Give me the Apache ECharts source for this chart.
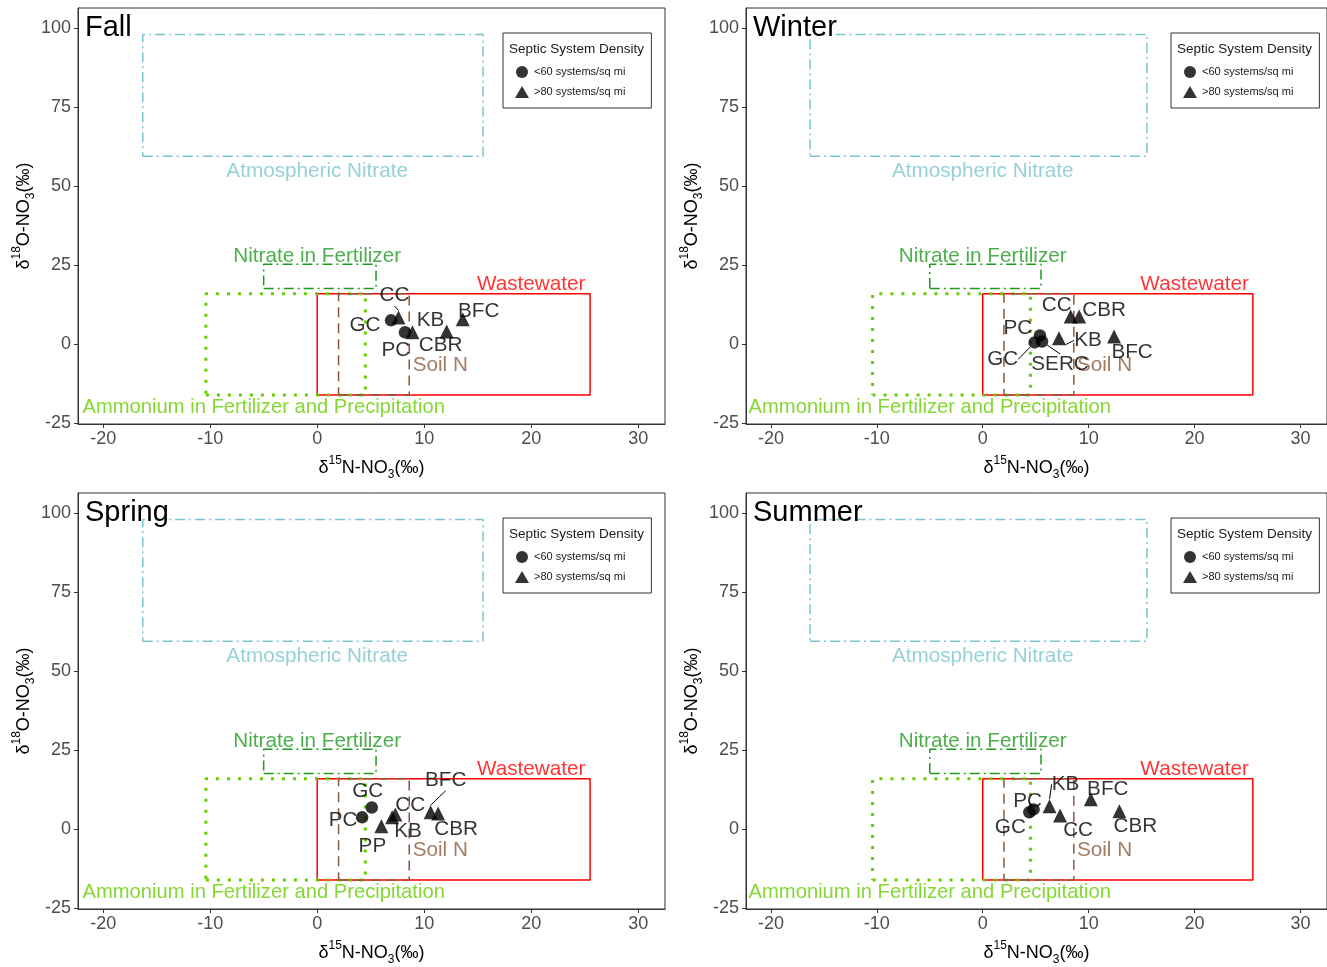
<!DOCTYPE html>
<html><head><meta charset="utf-8">
<script src="https://cdn.jsdelivr.net/npm/echarts@6/dist/echarts.min.js"></script>
<style>html,body{margin:0;padding:0;background:#fff}#c{width:1327px;height:967px}</style>
</head><body><div id="c"></div>
<script>
// ---------- DATA ----------
const seasons = ['Fall', 'Winter', 'Spring', 'Summer'];

const fallSites = ['GC', 'CC', 'PC', 'KB', 'CBR', 'BFC'];
const fallN15 = [6.9, 7.6, 8.2, 8.9, 12.1, 13.6];
const fallO18 = [7.6, 8.5, 3.8, 3.8, 4.1, 7.9];

const winterSites = ['PC', 'SERC', 'GC', 'CC', 'CBR', 'KB', 'BFC'];
const winterN15 = [5.4, 5.6, 4.9, 8.3, 9.1, 7.2, 12.4];
const winterO18 = [2.8, 0.9, 0.6, 8.8, 8.8, 1.9, 2.5];

const springSites = ['GC', 'PC', 'PP', 'CC', 'KB', 'BFC', 'CBR'];
const springN15 = [5.1, 4.2, 6.0, 7.3, 7.0, 10.6, 11.3];
const springO18 = [6.9, 3.8, 1.0, 4.7, 3.8, 5.4, 5.0];

const summerSites = ['GC', 'PC', 'KB', 'CC', 'BFC', 'CBR'];
const summerN15 = [4.4, 4.8, 6.3, 7.3, 10.2, 12.9];
const summerO18 = [5.4, 6.3, 7.3, 4.4, 9.5, 5.7];

const lowDensitySites = ['GC', 'PC', 'SERC'];
const densityClasses = ['<60 systems/sq mi', '>80 systems/sq mi'];

const sourceNames = ['Wastewater', 'Ammonium in Fertilizer and Precipitation', 'Soil N', 'Nitrate in Fertilizer', 'Atmospheric Nitrate'];
const sourceN15Min = [0, -10.4, 2, -5, -16.3];
const sourceN15Max = [25.5, 4.5, 8.6, 5.5, 15.5];
const sourceO18Min = [-16, -16, -16, 17.7, 59.5];
const sourceO18Max = [16, 16, 16, 25.3, 98];
const sourceLabelN15 = [20, -5, 11.5, 0, 0];
const sourceLabelO18 = [19, -19.9, -6.6, 27.8, 54.7];

const xTicks = [-20, -10, 0, 10, 20, 30];
const yTicks = [-25, 0, 25, 50, 75, 100];

// ---------- LABEL PLACEMENT (pixel offsets, repel-like) ----------
const fallLabelDx = [-26, -4, -9, 18, -6, 16];
const fallLabelDy = [5, -22, 18, -12, 14, -8];
const winterLabelDx = [-22, 18, -32, -14, 25, 29, 18];
const winterLabelDy = [-7, 23, 17, -11, -6, 2, 16];
const springLabelDx = [-4, -19, -9, 15, 16, 15, 18];
const springLabelDy = [-16, 3, 20, -9, 14, -32, 16];
const summerLabelDx = [-19, -6, 16, 18, 17, 16];
const summerLabelDy = [15, -8, -22, 15, -10, 15];
const fallLeaders = ['CC'];
const winterLeaders = ['SERC', 'GC', 'KB'];
const springLeaders = ['BFC'];
const summerLeaders = ['KB'];

// ---------- STYLE ----------
const FONT = 'Liberation Sans, Arial, sans-serif';
const sourceColors = ['#FF0000', '#66CD00', '#8B5A3C', '#1F9A1F', '#7AC5CD'];
const sourceDash = ['solid', [3, 8], [10, 6], [10, 4, 2, 4], [10, 4, 2, 4]];
const sourceWidth = [1.5, 3, 1.5, 1.5, 1.5];
const sourceFont = [20.7, 20.2, 20.7, 20.7, 20.7];

const panelSites = [fallSites, winterSites, springSites, summerSites];
const panelN15 = [fallN15, winterN15, springN15, summerN15];
const panelO18 = [fallO18, winterO18, springO18, summerO18];
const panelDx = [fallLabelDx, winterLabelDx, springLabelDx, summerLabelDx];
const panelDy = [fallLabelDy, winterLabelDy, springLabelDy, summerLabelDy];
const panelLeaders = [fallLeaders, winterLeaders, springLeaders, summerLeaders];

const gridPos = [
  { left: 78, top: 8 }, { left: 746, top: 8 },
  { left: 78, top: 493 }, { left: 746, top: 493 }
];

const axisNameRich = {
  t: { fontSize: 18, color: '#000', fontFamily: FONT, lineHeight: 26 },
  sup: { fontSize: 12, color: '#000', fontFamily: FONT, verticalAlign: 'top', lineHeight: 26 },
  sub: { fontSize: 12, color: '#000', fontFamily: FONT, verticalAlign: 'bottom', lineHeight: 26 }
};

const grid = [], xAxis = [], yAxis = [], series = [], title = [], legend = [];

seasons.forEach((season, i) => {
  const g = gridPos[i];
  grid.push({ left: g.left, top: g.top, width: 587, height: 416, show: true,
    borderColor: '#333', borderWidth: 1, backgroundColor: 'transparent' });
  xAxis.push({
    gridIndex: i, type: 'value', min: -22.35, max: 32.5,
    axisLine: { show: true, onZero: false, lineStyle: { color: '#333', width: 1 } },
    axisTick: { show: true, length: 4, customValues: xTicks, lineStyle: { color: '#333' } },
    axisLabel: { customValues: xTicks, color: '#4D4D4D', fontSize: 18, margin: 6, fontFamily: FONT },
    splitLine: { show: false },
    name: '{t|δ}{sup|15}{t|N-NO}{sub|3}{t|(‰)}', nameLocation: 'middle', nameGap: 31,
    nameTextStyle: { rich: axisNameRich }
  });
  yAxis.push({
    gridIndex: i, type: 'value', min: -25.2, max: 106.4,
    axisLine: { show: true, onZero: false, lineStyle: { color: '#333', width: 1 } },
    axisTick: { show: true, length: 4, customValues: yTicks, lineStyle: { color: '#333' } },
    axisLabel: { customValues: yTicks, color: '#4D4D4D', fontSize: 18, margin: 7, fontFamily: FONT },
    splitLine: { show: false },
    name: '{t|δ}{sup|18}{t|O-NO}{sub|3}{t|(‰)}', nameLocation: 'middle', nameGap: 37,
    nameTextStyle: { rich: axisNameRich }
  });

  // source boxes
  sourceNames.forEach((src, k) => {
    const x0 = sourceN15Min[k], x1 = sourceN15Max[k], y0 = sourceO18Min[k], y1 = sourceO18Max[k];
    series.push({
      type: 'line', xAxisIndex: i, yAxisIndex: i, silent: true, symbol: 'none', z: 2 + k * 0.01,
      data: [[x0, y0], [x1, y0], [x1, y1], [x0, y1], [x0, y0]],
      lineStyle: { color: sourceColors[k], width: sourceWidth[k], type: sourceDash[k], cap: 'butt' },
      animation: false
    });
  });
  // source labels
  series.push({
    type: 'scatter', xAxisIndex: i, yAxisIndex: i, silent: true, symbolSize: 0, z: 5,
    data: sourceNames.map((src, k) => ({
      name: src, value: [sourceLabelN15[k], sourceLabelO18[k]],
      label: { color: sourceColors[k], fontSize: sourceFont[k] }
    })),
    label: { show: true, position: 'inside', formatter: '{b}', fontSize: 20.7, fontFamily: FONT },
    animation: false
  });

  // sites split by septic density
  const sites = panelSites[i];
  [0, 1].forEach(cls => {
    const idx = sites.map((s, j) => j).filter(j => (lowDensitySites.includes(sites[j]) ? 0 : 1) === cls);
    series.push({
      name: densityClasses[cls], type: 'scatter', xAxisIndex: i, yAxisIndex: i, z: 8,
      symbol: cls === 0 ? 'circle' : 'triangle', symbolSize: cls === 0 ? 12.5 : 14,
      itemStyle: { color: '#000' },
      data: idx.map(j => ({
        name: sites[j], value: [panelN15[i][j], panelO18[i][j]],
        labelLine: { show: panelLeaders[i].includes(sites[j]) }
      })),
      label: { show: true, position: 'inside', formatter: '{b}', color: '#000', fontSize: 20.7, fontFamily: FONT },
      labelLine: { show: false, lineStyle: { color: '#000', width: 1 } },
      labelLayout: (p) => ({ dx: panelDx[i][idx[p.dataIndex]], dy: panelDy[i][idx[p.dataIndex]] }),
      animation: false
    });
  });

  title.push({ text: season, left: g.left + 7, top: g.top + 5, padding: 0,
    textStyle: { fontSize: 29, fontWeight: 'normal', color: '#000', fontFamily: FONT } });
  title.push({ text: 'Septic System Density', left: g.left + 431, top: g.top + 34, padding: 0,
    textStyle: { fontSize: 13.5, fontWeight: 'normal', color: '#1a1a1a', fontFamily: FONT } });
  legend.push({
    left: g.left + 425, top: g.top + 25, orient: 'vertical', data: densityClasses,
    borderColor: '#333', borderWidth: 1, padding: [33, 26, 10, 12], itemGap: 8,
    itemWidth: 14, itemHeight: 12, selectedMode: false,
    textStyle: { fontSize: 11, color: '#1a1a1a', fontFamily: FONT }
  });
});

const chart = echarts.init(document.getElementById('c'), null, { renderer: 'canvas' });
chart.setOption({ backgroundColor: '#fff', animation: false, grid, xAxis, yAxis, series, title, legend });
</script></body></html>
